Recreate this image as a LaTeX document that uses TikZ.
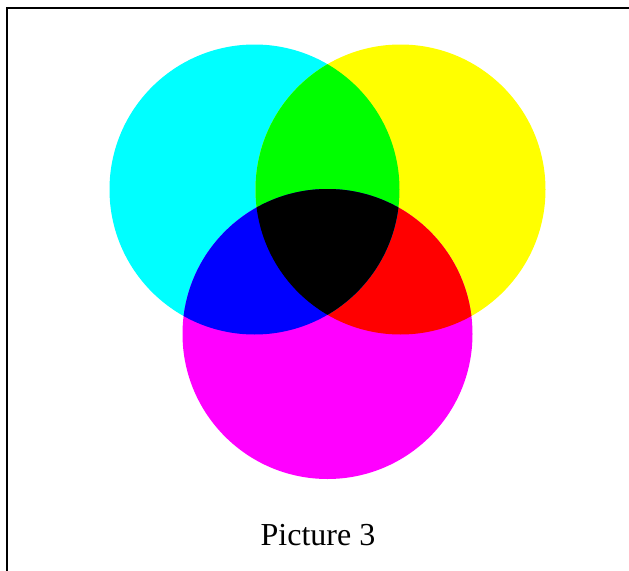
\documentclass[tikz,border=0pt]{standalone}
\usepackage{fontspec}
\setmainfont{Liberation Serif}
\usetikzlibrary{positioning}
\definecolor{inkcyan}{HTML}{00FFFF}
\definecolor{inkyellow}{HTML}{FFFF00}
\definecolor{inkmagenta}{HTML}{FF00FF}
\definecolor{inkgreen}{HTML}{00FF00}
\definecolor{inkblue}{HTML}{0000FF}
\definecolor{inkred}{HTML}{FF0000}
\tikzset{
    frameline/.style={line width=1.5pt, draw=black},
    caption/.style={font=\fontsize{24}{28}\selectfont, inner sep=0pt}
}
\begin{document}
\begin{tikzpicture}[x=0.75pt, y=-0.75pt]
    \useasboundingbox (0,0) rectangle (629,571);
    \draw[frameline] (7,571) -- (7,8) -- (629,8);
    % circle centres
    \coordinate (cy) at (254.5,189.5);
    \coordinate (ye) at (400.5,189.5);
    \coordinate (ma) at (327.5,334);
    \def\rad{145}
    \foreach \c/\col in {cy/inkcyan, ye/inkyellow, ma/inkmagenta} {
        \fill[\col] (\c) circle[radius=\rad];
    }
    % overlaps
    \begin{scope}
        \clip (ye) circle[radius=\rad];
        \fill[inkred] (ma) circle[radius=\rad];
    \end{scope}
    \begin{scope}
        \clip (cy) circle[radius=\rad];
        \fill[inkgreen] (ye) circle[radius=\rad];
        \fill[inkblue] (ma) circle[radius=\rad];
        \clip (ye) circle[radius=\rad];
        \fill[black] (ma) circle[radius=\rad];
    \end{scope}
    \node[caption, anchor=base] (label) at (318,545) {Picture 3};
\end{tikzpicture}
\end{document}
